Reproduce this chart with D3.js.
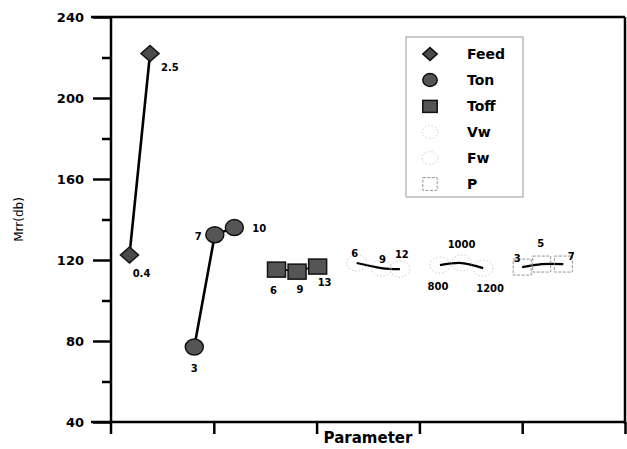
<!DOCTYPE html>
<html>
<head>
<meta charset="utf-8">
<script src="https://cdn.jsdelivr.net/npm/d3@7"></script>
<style>
  body { margin: 0; background: #fff; }
  text { font-family: "DejaVu Sans", "Liberation Sans", Arial, sans-serif; }
</style>
</head>
<body>
<div id="chart"></div>
<script>
// data (x is position along the parameter axis, y is Mrr)
const seriesNames = ["Feed", "Ton", "Toff", "Vw", "Fw", "P"];
const feedX = [0.18, 0.38];
const feedY = [122.5, 222];
const feedLabels = ["0.4", "2.5"];
const tonX = [0.81, 1.01, 1.2];
const tonY = [77, 132.5, 136];
const tonLabels = ["3", "7", "10"];
const toffX = [1.61, 1.81, 2.01];
const toffY = [115.5, 114.5, 117];
const toffLabels = ["6", "9", "13"];
const vwX = [2.39, 2.63, 2.81];
const vwY = [118.5, 116, 115.5];
const vwLabels = ["6", "9", "12"];
const fwX = [3.2, 3.41, 3.62];
const fwY = [117.5, 118.5, 116];
const fwLabels = ["800", "1000", "1200"];
const pX = [4.0, 4.19, 4.4];
const pY = [116.5, 118, 118];
const pLabels = ["3", "5", "7"];
const yTicks = [40, 80, 120, 160, 200, 240];
const yMinorTicks = [60, 100, 140, 180, 220];
const xTicks = [1, 2, 3, 4, 5];

const width = 627, height = 449;
const margin = {top: 17, right: 2, bottom: 27, left: 111};

const svg = d3.select("#chart").append("svg")
    .attr("width", width).attr("height", height);

const x = d3.scaleLinear().domain([0, 5]).range([margin.left, width - margin.right]);
const y = d3.scaleLinear().domain([40, 240]).range([height - margin.bottom, margin.top]);

// label placement per series: [dx, dy, anchor] for each point
const labelOffsets = {
    Feed: [[12, 22, "middle"], [11, 18, "start"]],
    Ton: [[0, 25, "middle"], [-13, 5, "end"], [18, 4, "start"]],
    Toff: [[-3, 25, "middle"], [3, 22, "middle"], [7, 20, "middle"]],
    Vw: [[-2, -6, "middle"], [1, -5, "middle"], [2, -11, "middle"]],
    Fw: [[-2, 25, "middle"], [0, -15, "middle"], [7, 24, "middle"]],
    P: [[-5, -5, "middle"], [-1, -17, "middle"], [8, -4, "middle"]]
};

const series = [
    {name: "Feed", xs: feedX, ys: feedY, labels: feedLabels, shape: "diamond", curve: d3.curveLinear, lw: 2.6},
    {name: "Ton", xs: tonX, ys: tonY, labels: tonLabels, shape: "circle", curve: d3.curveLinear, lw: 2.6},
    {name: "Toff", xs: toffX, ys: toffY, labels: toffLabels, shape: "square", curve: d3.curveLinear, lw: 1.6},
    {name: "Vw", xs: vwX, ys: vwY, labels: vwLabels, shape: "opencircle", curve: d3.curveNatural, lw: 2.2},
    {name: "Fw", xs: fwX, ys: fwY, labels: fwLabels, shape: "opencircle", curve: d3.curveNatural, lw: 2.2},
    {name: "P", xs: pX, ys: pY, labels: pLabels, shape: "opensquare", curve: d3.curveNatural, lw: 2.2}
];

function drawMarker(g, shape, cx, cy, k = 1) {
    if (shape === "diamond") {
        g.append("path")
            .attr("d", `M${cx},${cy - 8 * k}L${cx + 9 * k},${cy}L${cx},${cy + 8 * k}L${cx - 9 * k},${cy}Z`)
            .attr("fill", "#4a4a4a").attr("stroke", "#111").attr("stroke-width", 1.5);
    } else if (shape === "circle") {
        g.append("ellipse").attr("cx", cx).attr("cy", cy).attr("rx", 9 * k).attr("ry", 8 * k)
            .attr("fill", "#555").attr("stroke", "#111").attr("stroke-width", 1.5);
    } else if (shape === "square") {
        g.append("rect").attr("x", cx - 9 * k).attr("y", cy - 7 * k).attr("width", 18 * k).attr("height", 15 * k)
            .attr("fill", "#555").attr("stroke", "#111").attr("stroke-width", 1.5);
    } else if (shape === "opencircle") {
        g.append("ellipse").attr("cx", cx).attr("cy", cy).attr("rx", 10 * k).attr("ry", 8 * k)
            .attr("fill", "none").attr("stroke", "#bbb").attr("stroke-width", 0.8)
            .attr("stroke-dasharray", "1.5,2");
    } else if (shape === "opensquare") {
        g.append("rect").attr("x", cx - 9 * k).attr("y", cy - 8 * k).attr("width", 18 * k).attr("height", 16 * k)
            .attr("fill", "none").attr("stroke", "#888").attr("stroke-width", 0.9)
            .attr("stroke-dasharray", "3,1.5");
    }
}

// frame (top and right)
svg.append("line").attr("x1", x(0) - 20).attr("x2", x(5)).attr("y1", y(240)).attr("y2", y(240))
    .attr("stroke", "#000").attr("stroke-width", 2.5);
svg.append("line").attr("x1", x(5)).attr("x2", x(5)).attr("y1", y(240)).attr("y2", y(40) + 2)
    .attr("stroke", "#000").attr("stroke-width", 2.5);

// y axis
const yAxis = svg.append("g").attr("transform", `translate(${x(0)},0)`)
    .call(d3.axisLeft(y).tickValues(yTicks).tickSize(18).tickPadding(9).tickFormat(d3.format("d")));
yAxis.selectAll(".tick line").attr("stroke-width", 2.5);
yAxis.select(".domain").remove();
yAxis.selectAll("text").attr("font-size", 13).attr("font-weight", "bold").attr("fill", "#000")
    .attr("font-family", "DejaVu Sans, Liberation Sans, Arial, sans-serif");
svg.append("g").attr("transform", `translate(${x(0)},0)`)
    .call(d3.axisLeft(y).tickValues(yMinorTicks).tickSize(9).tickFormat(""))
    .call(g => g.select(".domain").remove())
    .selectAll(".tick line").attr("stroke-width", 2.5);
svg.append("line").attr("x1", x(0)).attr("x2", x(0)).attr("y1", y(240)).attr("y2", y(40) + 12)
    .attr("stroke", "#000").attr("stroke-width", 2.5);

// x axis
const xAxis = svg.append("g").attr("transform", `translate(0,${y(40)})`)
    .call(d3.axisBottom(x).tickValues(xTicks).tickSize(12).tickFormat(""));
xAxis.select(".domain").remove();
xAxis.selectAll(".tick line").attr("stroke-width", 2.5);
svg.append("line").attr("x1", x(0) - 20).attr("x2", x(5)).attr("y1", y(40)).attr("y2", y(40))
    .attr("stroke", "#000").attr("stroke-width", 2.5);

// axis titles
svg.append("text").attr("x", (x(0) + x(5)) / 2).attr("y", 443)
    .attr("text-anchor", "middle").attr("font-size", 15).attr("font-weight", "bold")
    .text("Parameter");
svg.append("text").attr("transform", `translate(23,${(y(40) + y(240)) / 2}) rotate(-90)`)
    .attr("text-anchor", "middle").attr("font-size", 12)
    .text("Mrr(db)");

// series
series.forEach(s => {
    const pts = s.xs.map((v, i) => ({x: v, y: s.ys[i], label: s.labels[i]}));
    const g = svg.append("g");
    g.append("path").datum(pts)
        .attr("fill", "none").attr("stroke", "#000").attr("stroke-width", s.lw)
        .attr("d", d3.line().x(d => x(d.x)).y(d => y(d.y)).curve(s.curve));
    pts.forEach(d => drawMarker(g, s.shape, x(d.x), y(d.y)));
    pts.forEach((d, i) => {
        const o = labelOffsets[s.name][i];
        g.append("text").attr("x", x(d.x) + o[0]).attr("y", y(d.y) + o[1])
            .attr("text-anchor", o[2]).attr("font-size", 10).attr("font-weight", "bold")
            .text(d.label);
    });
});

// legend
const legend = svg.append("g").attr("transform", "translate(406,37)");
legend.append("rect").attr("width", 117).attr("height", 160)
    .attr("fill", "none").attr("stroke", "#999").attr("stroke-width", 1);
series.forEach((s, i) => {
    const ly = 17 + i * 26;
    drawMarker(legend, s.shape, 24, ly, 0.8);
    legend.append("text").attr("x", 61).attr("y", ly + 5)
        .attr("font-size", 14).attr("font-weight", "bold").text(s.name);
});
</script>
</body>
</html>
